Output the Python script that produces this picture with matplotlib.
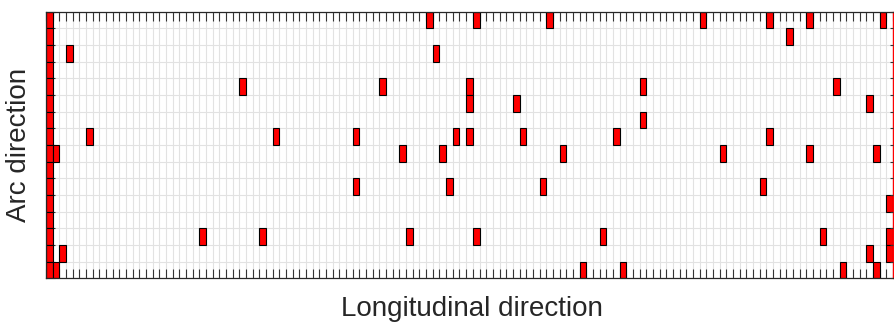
import matplotlib
matplotlib.use("Agg")
import matplotlib.pyplot as plt

plt.rcParams['font.family'] = ['Liberation Sans', 'DejaVu Sans']

# Grid size
n_cols = 127
n_rows = 16

# Boundary column (fully marked)
boundary_col = 0

# Marked cells: row index counted from the top -> list of column indices
row_00 = [57, 64, 75, 98, 108, 114, 125]
row_01 = [111]
row_02 = [3, 58]
row_03 = []
row_04 = [29, 50, 63, 89, 118]
row_05 = [63, 70, 123]
row_06 = [89]
row_07 = [6, 34, 46, 61, 63, 71, 85, 108]
row_08 = [1, 53, 59, 77, 101, 114, 124]
row_09 = []
row_10 = [46, 60, 74, 107]
row_11 = [126]
row_12 = []
row_13 = [23, 32, 54, 64, 83, 116, 126]
row_14 = [2, 123, 126]
row_15 = [1, 80, 86, 119, 124]

rows = [row_00, row_01, row_02, row_03, row_04, row_05, row_06, row_07,
        row_08, row_09, row_10, row_11, row_12, row_13, row_14, row_15]

xlabel = "Longitudinal direction"
ylabel = "Arc direction"

W, H = 894, 322
fig = plt.figure(figsize=(W / 100, H / 100), dpi=100)
ax = fig.add_axes([46 / W, (H - 278.3) / H, 847 / W, 266.7 / H])

xs, ys = [], []
for r, cols in enumerate(rows):
    for c in [boundary_col] + cols:
        xs.append(c)
        ys.append(r)

ax.bar(xs, [1] * len(xs), width=1, bottom=ys, align='edge',
       color='#ff0000', edgecolor='black', linewidth=0.8, zorder=1)

ax.set_xlim(0, n_cols)
ax.set_ylim(n_rows, 0)

ax.set_xticks(range(n_cols + 1))
ax.set_yticks(range(n_rows + 1))
ax.tick_params(axis='x', which='major', direction='in', top=True, bottom=True,
               length=6.5, width=0.8, color='#333333',
               labelbottom=False, labeltop=False)
ax.tick_params(axis='y', which='major', direction='in', left=True, right=False,
               length=6.5, width=0.8, color='#333333', labelleft=False)

ax.grid(True, color='#e2e2e2', linewidth=0.8)
ax.set_axisbelow(True)

for s in ['top', 'bottom', 'left']:
    ax.spines[s].set_color('#262626')
    ax.spines[s].set_linewidth(0.9)
ax.spines['right'].set_color('#ff0000')
ax.spines['right'].set_linewidth(1.0)

# short ticks on the right side
ax2 = ax.twinx()
ax2.set_ylim(n_rows, 0)
ax2.set_yticks(range(n_rows + 1))
ax2.tick_params(axis='y', direction='in', right=True, length=2.2, width=0.8,
                color='#333333', labelright=False)
for s in ax2.spines.values():
    s.set_visible(False)

fig.text(472 / W, 5.5 / H, xlabel, ha='center', va='baseline',
         fontsize=20, color='#262626')
fig.text(19 / W, (H - 145) / H, ylabel, ha='center', va='center',
         rotation=90, fontsize=20, color='#262626')

fig.savefig("out.png", dpi=100)
